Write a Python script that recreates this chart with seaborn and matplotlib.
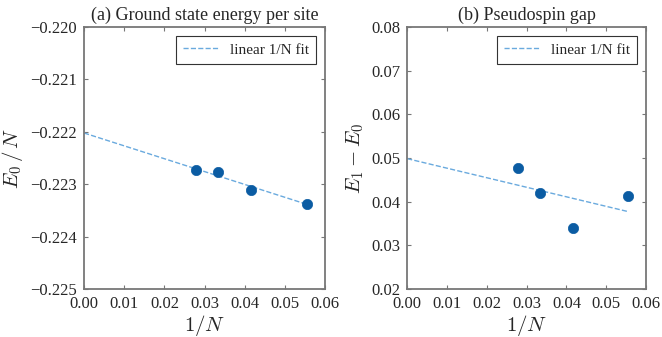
import numpy as np
import pandas as pd
import matplotlib
matplotlib.use("Agg")
import matplotlib.pyplot as plt
import seaborn as sns

# system sizes and values
sizes = [36, 30, 24, 18]
e0_per_site = [-0.222733, -0.222766, -0.223103, -0.223370]
gap = [0.04766, 0.04200, 0.03398, 0.04124]

titles = ["(a) Ground state energy per site", "(b) Pseudospin gap"]
ylabels = [r"$E_0\,/\,N$", r"$E_1 - E_0$"]
ylims = [(-0.225, -0.220), (0.02, 0.08)]
yticks = [np.arange(-0.225, -0.2199, 0.001), np.arange(0.02, 0.0801, 0.01)]
yfmt = ["{:.3f}", "{:.2f}"]

sns.set_style("ticks")
plt.rcParams["font.family"] = ["Liberation Serif", "DejaVu Serif"]
plt.rcParams["mathtext.fontset"] = "cm"
plt.rcParams["axes.unicode_minus"] = True

point_color = "#0b5ca3"
fit_color = "#6aaade"

fig = plt.figure(figsize=(6.62, 3.37), dpi=100)
ax1 = fig.add_axes([0.127, 0.142, 0.364, 0.778])
ax2 = fig.add_axes([0.615, 0.142, 0.361, 0.778])

inv_n = 1.0 / np.array(sizes)

for i, (ax, vals) in enumerate(zip([ax1, ax2], [e0_per_site, gap])):
    df = pd.DataFrame({"invN": inv_n, "val": vals})

    # -------------------------------
    # linear 1/N fit
    # -------------------------------
    slope, icpt = np.polyfit(df["invN"], df["val"], 1)
    xfit = np.array([0.0, inv_n.max()])
    fit_df = pd.DataFrame({"invN": xfit, "val": icpt + slope * xfit})
    sns.lineplot(data=fit_df, x="invN", y="val", ax=ax, color=fit_color,
                 linestyle="--", linewidth=1.0, label="linear 1/N fit")

    sns.scatterplot(data=df, x="invN", y="val", ax=ax, color=point_color,
                    s=55, edgecolor=point_color, linewidth=0.5, zorder=3)

    ax.set_xlim(0, 0.06)
    ax.set_ylim(*ylims[i])
    ax.set_xticks(np.arange(0, 0.0601, 0.01))
    ax.set_xticklabels([f"{t:.2f}" for t in np.arange(0, 0.0601, 0.01)])
    ax.set_yticks(yticks[i])
    ax.set_yticklabels([yfmt[i].format(t).replace("-", "\u2212") for t in yticks[i]])
    ax.tick_params(direction="in", length=3, width=0.8, color="#777777",
                   labelsize=12, top=True, right=True, pad=5)
    for sp in ax.spines.values():
        sp.set_color("#777777")
        sp.set_linewidth(1.3)

    ax.set_xlabel(r"$1/N$", fontsize=15, labelpad=1)
    ax.set_ylabel(ylabels[i], fontsize=15, labelpad=4)
    ax.set_title(titles[i], fontsize=13, pad=5)

    leg = ax.legend(loc="upper right", fontsize=11, fancybox=False,
                    framealpha=1, borderpad=0.45, handlelength=2.3,
                    borderaxespad=0.6)
    leg.get_frame().set_edgecolor("#333333")
    leg.get_frame().set_linewidth(0.8)

fig.savefig("out.png", dpi=100)
